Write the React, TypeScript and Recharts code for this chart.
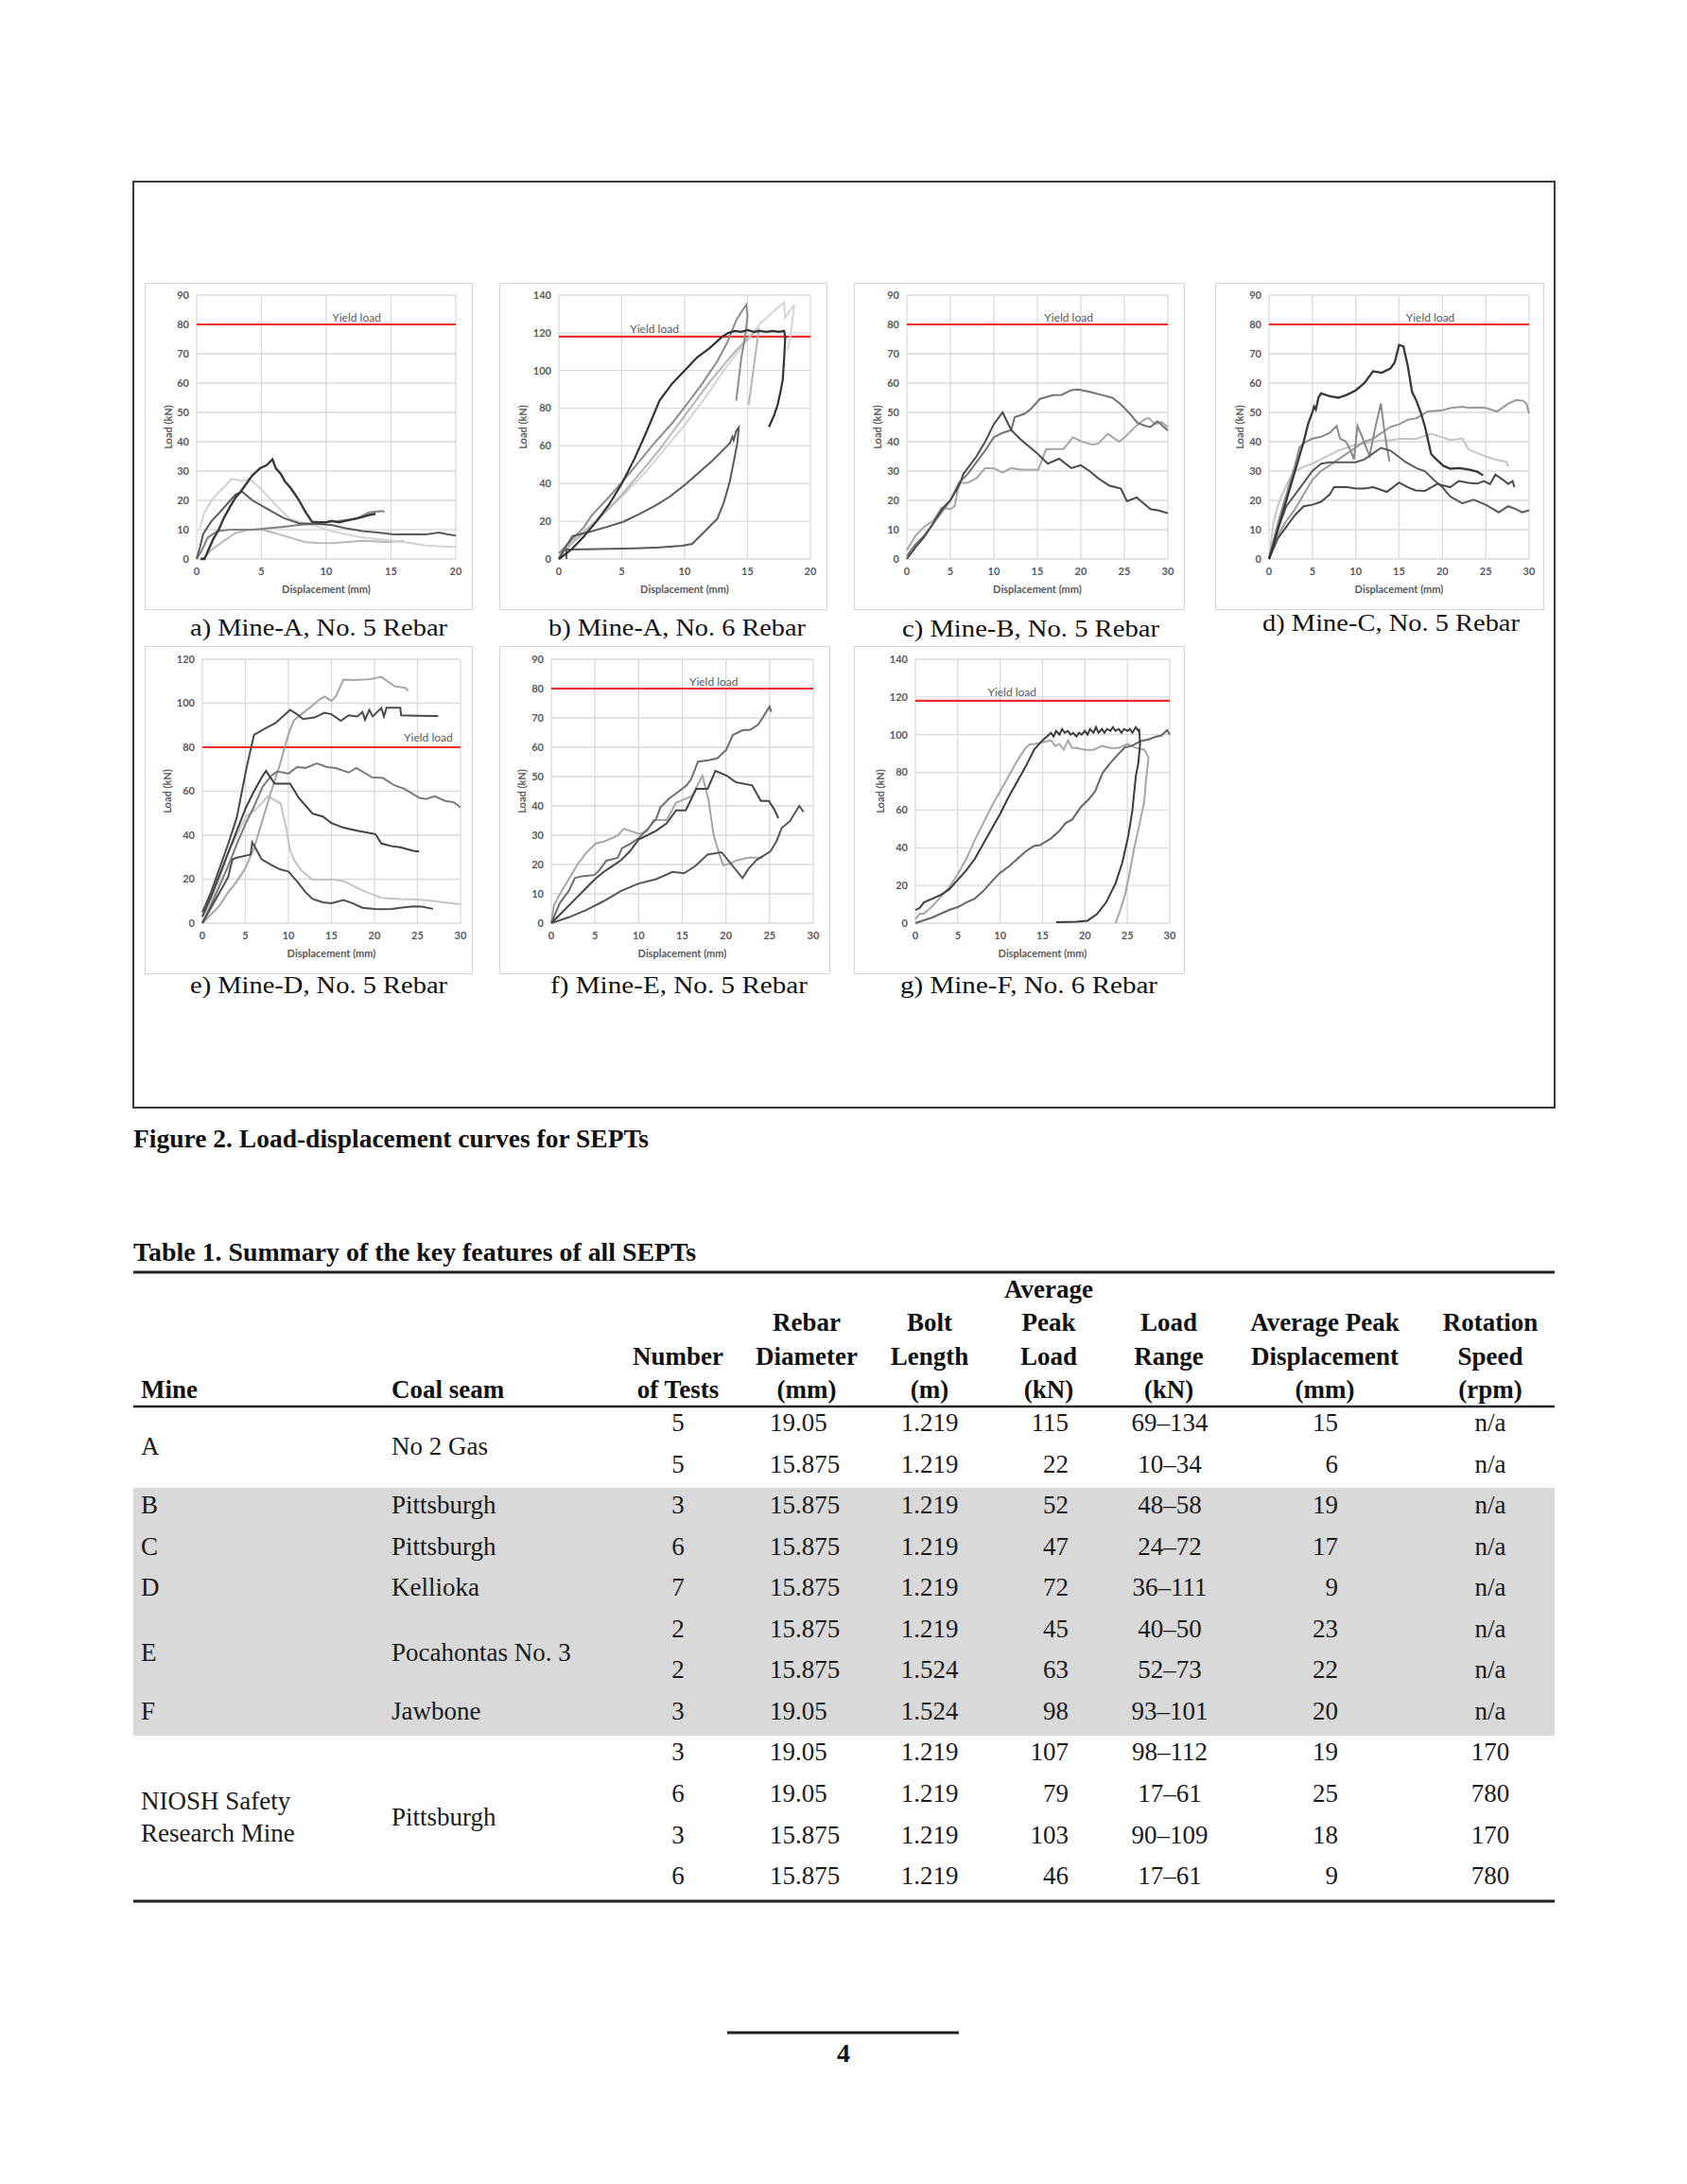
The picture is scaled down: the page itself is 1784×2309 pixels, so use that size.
import React from 'react';
import { LineChart, Line, XAxis, YAxis, CartesianGrid, ReferenceLine } from 'recharts';

type Pt = [number, number];

// ---------- a) Mine-A, No. 5 Rebar ----------
const mineA5_1: Pt[] = [[0.3, 0], [0.6, 0], [1, 4], [1.3, 7], [1.7, 10], [2.1, 14], [2.6, 18], [3, 21], [3.4, 23], [3.8, 25.5], [4.3, 28.5], [4.9, 31], [5.4, 32], [5.85, 34], [6.1, 31], [6.5, 29], [6.8, 26.5], [7.2, 24.5], [7.6, 22], [7.9, 20], [8.4, 16], [8.9, 12.7], [9.5, 12.5], [10, 12.5], [10.4, 13], [11, 12.5], [11.5, 13], [12, 13.5], [12.8, 14.3], [13.3, 15], [13.8, 15.4]];
const mineA5_2: Pt[] = [[0, 0], [0.25, 4], [0.5, 8.5], [1.1, 12.7], [1.8, 16], [2.6, 20], [3, 22], [3.5, 23], [4.3, 20], [5.5, 17], [6.7, 14], [7.9, 12.2], [9, 12], [10.4, 11.6], [11.5, 10.5], [12.8, 9.5], [14, 9], [15.2, 8.4], [16.5, 8.5], [17.7, 8.4], [18.7, 9], [19.3, 8.5], [20, 8]];
const mineA5_3: Pt[] = [[0.25, 10.5], [0.6, 16], [1.3, 21], [2.1, 24.5], [2.7, 27.3], [3.1, 27], [3.5, 26.6], [4.1, 27.2], [4.8, 24.5], [5.5, 21.3], [6.2, 18], [7.2, 13.7], [8.4, 12.1], [9.4, 11], [10.4, 9.5], [11.5, 8.5], [12.8, 7.3], [14, 6.8], [15.2, 6.2], [16.5, 5.5], [17.7, 4.6], [19, 4.3], [20, 4.1]];
const mineA5_4: Pt[] = [[0, 0], [0.4, 3], [0.85, 7.3], [1.6, 9.5], [2.6, 10], [4.3, 10], [5.5, 10.5], [6.7, 11], [7.9, 11.6], [9, 12], [10.4, 12.7], [11.4, 13.2], [12.3, 13.7], [13.3, 15.9], [14.3, 16.4], [14.5, 16]];
const mineA5_5: Pt[] = [[0.25, 0], [0.6, 0.5], [1.1, 3], [2.1, 6.2], [3, 8.9], [4, 10], [5, 10], [6, 8.9], [7.2, 7.3], [8.4, 5.7], [9.4, 5.5], [10.4, 5.4], [11.6, 5.8], [12.8, 6.2], [14, 6], [14.8, 5.7], [16, 6.2]];

// ---------- b) Mine-A, No. 6 Rebar ----------
const mineA6_1: Pt[] = [[0, 0], [1, 5], [2, 12], [3, 20], [4, 29], [5, 40], [6, 53], [7, 68], [8, 84], [9, 93], [10, 100], [11, 107], [12, 112], [12.5, 115], [13, 118], [13.5, 120], [14, 121], [14.5, 120.5], [15, 121.5], [15.5, 120.5], [16, 121], [16.5, 120.5], [17, 121], [17.5, 120.5], [17.9, 121], [18, 118], [17.9, 105], [17.8, 95], [17.6, 88], [17.4, 82], [17.1, 76], [16.7, 70]];
const mineA6_2: Pt[] = [[0, 3], [1, 10], [2, 17], [2.6, 23], [4, 33], [5.1, 41.4], [6.3, 51], [7.6, 61.5], [9, 72], [10.1, 81.5], [11.4, 93], [12.6, 105], [13.4, 115], [14.1, 126.6], [14.6, 132], [14.9, 135], [15, 129], [14.9, 123], [14.7, 114], [14.5, 106.6], [14.3, 95], [14.1, 84]];
const mineA6_3: Pt[] = [[0, 2], [1, 9], [2, 15], [3, 21], [4, 27], [5, 33], [6, 40], [7, 47], [8, 55], [9, 63], [10, 71], [11, 80], [12, 89], [13, 99], [14, 108], [15, 116], [16, 125], [17, 131], [17.9, 136], [18, 128], [18.3, 131], [18.7, 135], [18.6, 128], [18.4, 118], [18.2, 111]];
const mineA6_4: Pt[] = [[0, 1], [1, 8], [2, 14], [3, 20], [4, 27], [5, 34], [6, 42], [7, 50], [8, 58], [9, 67], [10, 76], [11, 85], [12, 94], [13, 102], [14, 110], [15, 117], [15.5, 120], [15.9, 122], [15.7, 112], [15.5, 102], [15.3, 92], [15.1, 82]];
const mineA6_5: Pt[] = [[0.6, 0], [0.6, 5], [2, 5.2], [4, 5.4], [6, 5.7], [8, 6.2], [9.8, 7], [10.6, 8], [11.6, 14.7], [12.6, 21.4], [13.1, 29.7], [13.6, 41.4], [14, 54.8], [14.2, 62], [14.3, 69.8], [14.1, 68], [13.9, 63], [13.8, 64.8], [13.6, 61.5], [12.1, 51.5], [10.1, 39.8], [8.8, 33], [7.6, 28], [6.3, 23.5], [5.1, 19.7], [3.8, 17], [2.6, 14.7], [1.1, 12.2], [0.5, 6], [0, 0]];

// ---------- c) Mine-B, No. 5 Rebar ----------
const mineB5_1: Pt[] = [[0, 0], [1, 4], [2, 7.5], [3, 12], [4, 17], [5, 20], [6, 25], [6.5, 29], [7, 31], [8, 35], [9, 40], [10, 46], [11, 50], [11.5, 47], [12, 44], [13, 41], [14, 38.5], [15, 36], [16.2, 32.5], [17.5, 34.2], [18.9, 31], [20, 32], [21, 30], [22, 27.5], [23.3, 25], [24.6, 24], [25.3, 19.7], [26.4, 21], [27, 19.5], [28, 17], [29, 16.5], [30, 15.6]];
const mineB5_2: Pt[] = [[0, 1], [1, 5], [2, 8], [3, 12], [4, 16], [5, 20], [6, 26], [7, 29], [8, 33], [9, 37], [10, 41.5], [11, 43], [12, 44], [12.4, 48.4], [13.5, 49.5], [14.2, 51], [15.3, 54.6], [16.8, 55.9], [17.8, 56], [18.9, 57.6], [19.7, 57.8], [21, 57], [22.3, 56], [23.6, 55], [24.5, 53], [25.5, 50], [26.5, 46.5], [27.3, 45.5], [28, 45], [28.8, 47], [30, 43.8]];
const mineB5_3: Pt[] = [[0, 3], [1, 8], [2, 11], [3, 13], [4, 17.5], [5, 17], [5.5, 18], [6, 26], [7, 26], [8, 27.5], [9, 31], [10, 31], [11, 29.5], [12, 31], [13, 30.5], [14, 30.5], [15.1, 30.4], [16, 37.4], [17, 37.5], [18, 37.5], [19.1, 41.5], [20, 40.2], [21.3, 39], [22, 39.3], [23.1, 42.7], [24.4, 40], [25.1, 41.7], [26.2, 44.9], [27.3, 47.6], [27.8, 48.1], [28.5, 46], [29.3, 46.7], [30, 44.9]];

// ---------- d) Mine-C, No. 5 Rebar ----------
const mineC5_1: Pt[] = [[0, 0], [1, 10], [2, 20], [3, 30], [4, 40], [4.5, 46], [5, 50], [5.2, 52], [5.4, 51], [5.7, 55], [6, 56.5], [7, 55.5], [8, 55], [9, 56], [10, 57.5], [11, 60], [12, 64], [13, 63.5], [14, 65], [14.5, 67], [15, 73], [15.5, 72.5], [16, 66], [16.5, 57], [17, 54], [17.5, 50], [18, 45], [18.7, 35.8], [19.3, 34], [20.1, 31.8], [20.9, 30.8], [22, 31], [23, 30.5], [24, 29.8], [24.7, 28.5]];
const mineC5_2: Pt[] = [[0, 0], [1, 12], [2, 22], [3, 32], [3.5, 38], [4, 39.5], [4.9, 41], [6, 41.7], [7, 43], [7.8, 45.4], [8.2, 41], [8.9, 40], [9.4, 37], [9.8, 34], [10.2, 45.4], [10.7, 42], [11.2, 38], [11.6, 35.2], [12.2, 44], [12.9, 53], [13.3, 44], [13.6, 38], [13.9, 33.3]];
const mineC5_3: Pt[] = [[0, 0], [1, 8], [2, 13], [3, 17], [4, 22], [5, 27], [6, 30], [7, 32], [8, 34], [9, 36], [10, 38], [11, 40], [12, 41], [13, 43], [14, 45], [15.05, 46], [16, 47.5], [17, 48], [18.3, 50.3], [19, 50.5], [20, 50.7], [21, 51.5], [22.3, 51.9], [23, 51.5], [24, 51.7], [25, 51.5], [26.3, 50.3], [27.6, 53], [28.5, 54.2], [29.3, 54], [29.7, 53], [30, 49.7]];
const mineC5_4: Pt[] = [[0, 0], [0.5, 12], [1, 18], [1.5, 22], [2, 25], [2.5, 28], [3, 30], [4, 31.5], [5, 32.5], [6, 34], [7, 35.5], [8, 37], [9, 38], [10, 39], [11, 39.5], [12, 40], [13, 40.5], [14, 40.5], [15, 41], [16, 41], [17, 41], [18.7, 42.7], [20, 41.5], [20.9, 40.6], [22.3, 41.1], [23, 37.4], [24.8, 35.2], [26, 34], [27.4, 33.1], [27.6, 31.5]];
const mineC5_5: Pt[] = [[0, 0], [1, 10], [2, 18], [3, 22], [4, 26], [5, 30], [6, 32.5], [7, 33], [8, 33], [9, 33], [10, 33], [11, 34], [12, 36], [12.9, 37.9], [14, 37], [15.8, 33], [17, 31], [18, 29.9], [19, 27], [20, 24.5], [20.9, 21.3], [22.3, 19], [23.6, 20.2], [25, 18.5], [26.5, 15.9], [27.6, 18], [28.5, 17], [29.2, 15.9], [30, 16.6]];
const mineC5_6: Pt[] = [[0, 0], [1, 7], [2, 11], [3, 15], [4, 18], [5, 18.5], [6, 19.5], [7, 22], [7.5, 24.5], [8.3, 24.5], [9, 24.5], [10, 24], [11, 24], [12, 24.5], [13.6, 22.9], [15, 26.1], [16, 24.5], [16.9, 23.4], [18, 23.2], [19.4, 25.6], [20.9, 24.5], [21.9, 26.6], [23, 26], [24, 25.7], [24.8, 26.6], [25.5, 25.5], [26.1, 28.8], [27, 27], [27.6, 25.6], [28.1, 26.6], [28.3, 24.5]];

// ---------- e) Mine-D, No. 5 Rebar ----------
const mineD5_1: Pt[] = [[0, 5], [1, 14], [2, 25], [3, 36], [4, 48], [5.1, 70], [6, 85.6], [7.3, 88.5], [8.5, 91], [10.2, 97], [11, 95], [11.7, 92.8], [13, 93.5], [14.2, 95.7], [15, 95], [16.1, 92], [17, 94.5], [18, 94], [18.6, 96], [18.9, 92.5], [19.4, 97], [19.8, 94], [20.8, 97.8], [21.1, 94], [21.4, 98], [21.9, 98], [23, 98], [23.1, 94.5], [25, 94.3], [27.4, 94.2]];
const mineD5_2: Pt[] = [[0, 0], [1, 4], [2, 8], [3, 14], [4, 19], [5, 25], [6, 34], [7, 47], [8, 60], [9, 72], [10, 86], [10.6, 92], [11.5, 95], [12.5, 98], [13.5, 101.4], [14.2, 103], [15, 101], [15.5, 103], [16.4, 110.7], [17.5, 110.5], [18.6, 110.7], [19.5, 111], [20.8, 112], [21.5, 110], [22.3, 107.8], [23.6, 107], [23.9, 105.7]];
const mineD5_3: Pt[] = [[0, 0], [1, 8], [2, 17], [3, 26], [4, 36], [5, 45], [6, 53], [7, 62], [8, 67], [8.7, 69], [10, 68], [11, 71], [12, 70.6], [13.3, 72.7], [14.5, 71], [15.5, 70.5], [17, 68.5], [17.9, 70.6], [19.7, 66.3], [21, 66], [22.3, 62.7], [23.5, 61], [25.2, 57], [26, 56.5], [27, 57.7], [28.2, 55.6], [29.2, 55], [30, 52.7]];
const mineD5_4: Pt[] = [[0, 3], [1, 12], [2, 22], [3, 32], [4, 42], [5, 52], [6, 60], [7, 67], [7.4, 69.2], [8.4, 63.4], [10.2, 63.4], [11.2, 57], [12.8, 49.8], [14, 48.5], [15, 45.5], [16.4, 43.4], [18, 42], [20.1, 40.5], [20.8, 36.2], [22, 35], [23, 34.5], [24.5, 32.9], [25.2, 32.6]];
const mineD5_5: Pt[] = [[0, 0], [1, 10], [2, 20], [3, 32], [4, 40], [5.1, 48.7], [6, 51], [7, 55], [7.6, 57.7], [9.1, 54.4], [9.7, 44], [10.2, 33], [10.7, 28.4], [11.5, 24], [12.8, 19.8], [15.3, 19.8], [16.5, 19], [18, 16], [19.5, 13.5], [20.8, 11.5], [23, 11], [25, 10.8], [27, 10], [28.5, 9.2], [30, 8.6]];
const mineD5_6: Pt[] = [[0, 0], [1, 7], [2, 14], [3, 21], [3.5, 29], [4, 29.8], [5.6, 31.2], [5.8, 36.7], [6.9, 29], [8, 26.5], [9, 24.5], [10, 23.5], [11, 19], [12, 14], [12.8, 11], [14, 9.5], [15, 9], [16.4, 10.5], [17.5, 9], [18.6, 7], [20, 6.5], [21, 6.3], [22, 6.5], [23, 7], [24.5, 7.6], [25.5, 7.5], [26.8, 6.5]];

// ---------- f) Mine-E, No. 5 Rebar ----------
const mineE5_1: Pt[] = [[0, 0], [1, 7], [2, 11], [2.7, 15.4], [3.5, 16], [4.9, 16.4], [5.5, 18], [6.3, 21.3], [7.6, 22.3], [8.1, 25.6], [9, 27], [10, 29], [11, 32], [12, 35.5], [12.5, 39.5], [13.5, 42.5], [14.6, 44.9], [15.5, 47], [16, 49], [16.8, 55.1], [18, 55.6], [19, 56.2], [20, 59], [20.8, 64.2], [21.9, 65.8], [22.8, 66], [23.7, 67.7], [24.4, 71], [25, 73.9], [25.2, 72]];
const mineE5_2: Pt[] = [[0, 0], [0.3, 6], [1, 10], [2, 15], [3, 20], [4, 24], [5.1, 27.2], [6, 27.8], [7.6, 29.9], [8.3, 32.2], [9, 31.5], [10.1, 30.4], [11, 31.5], [11.7, 35.2], [13.2, 35.2], [14.3, 41.1], [15, 42], [16.1, 43.3], [17.3, 50.3], [18, 42], [18.6, 29.9], [19.2, 24], [19.7, 19.7], [20.5, 20.3], [21.1, 21.3], [22.6, 22.3], [24.2, 22.3]];
const mineE5_3: Pt[] = [[0, 0], [1, 3], [2, 6], [3, 9], [4, 12], [5, 15], [6, 17.5], [7, 19.5], [8, 21.5], [9, 24.5], [10, 28.5], [11, 30], [12, 31.5], [13.2, 34], [14.3, 38.5], [15.4, 38.5], [16.6, 45.8], [17.9, 45.8], [18.8, 51.9], [20.1, 50.3], [21.1, 48.1], [23, 47], [24, 41.7], [24.9, 41.7], [25.5, 39], [26, 35.8]];
const mineE5_4: Pt[] = [[0, 0], [2, 2], [4, 4.5], [6, 7.5], [8, 11], [10, 13.5], [12, 15], [13.9, 17.5], [15.2, 17], [16.5, 19.5], [17.9, 23.4], [19.5, 24.2], [20.5, 20.5], [21.9, 15.4], [22.6, 18.6], [23.5, 21.5], [25.1, 24.5], [25.8, 28], [26.4, 32.5], [27.3, 34.7], [28.4, 40], [28.9, 37.9]];

// ---------- g) Mine-F, No. 6 Rebar ----------
const mineF6_1: Pt[] = [[0, 7], [0.5, 8], [1, 11], [2, 13], [3, 15], [4, 18], [5, 23], [6, 28], [7, 34], [8, 42], [9, 50], [10, 58], [11, 67], [12, 75], [13, 83], [14, 92], [15, 97], [15.5, 99], [16, 101], [16.3, 99], [16.6, 102], [17, 100], [17.3, 103], [17.6, 101], [18, 102], [18.3, 100], [18.6, 101], [19, 99], [19.3, 101], [19.6, 100], [20, 102], [20.3, 100], [20.6, 103], [21, 101], [21.3, 104], [21.6, 101], [22, 103], [22.3, 101], [22.6, 103], [23, 102], [23.3, 104], [23.6, 102], [24, 103], [24.3, 101], [24.6, 103], [25, 102], [25.3, 103], [25.6, 101], [26, 104], [26.3, 102], [26.4, 103], [26.5, 95], [26.3, 85], [26, 78], [25.6, 60], [25.1, 46], [24.4, 32], [23.6, 21], [22.5, 11], [21.4, 4.7], [20.3, 1.3], [19, 0.8], [16.6, 0.5]];
const mineF6_2: Pt[] = [[0, 2], [0.5, 5], [1, 5], [2, 9], [3, 14], [4, 19], [5, 26], [6, 34], [7, 44], [8, 53], [9, 62], [10, 70], [11, 78], [12, 86], [13, 93], [13.5, 95], [14, 95], [15, 96], [16, 97], [16.5, 94], [17, 95], [17.5, 92], [18, 97], [18.5, 93], [19, 93], [20, 92], [21, 92], [22, 94], [23, 93], [24, 93], [25, 95], [26, 93], [27, 92], [27.5, 88], [27.2, 76], [27, 64.8], [26.4, 52], [25.8, 39.8], [25.2, 25], [24.7, 14.7], [24.1, 6], [23.6, 0]];
const mineF6_3: Pt[] = [[0, 0], [1, 1.5], [2, 3], [3, 5], [4, 7], [5, 8.5], [6, 11], [7, 13], [8, 17], [9, 22], [9.9, 26.4], [11, 30], [12, 34], [13, 38], [14, 41], [14.7, 41.4], [16, 45], [17, 49], [17.7, 53], [18.5, 55], [19.5, 61.5], [20.5, 66], [21.2, 70], [22.1, 79.9], [23, 85], [24, 90], [24.7, 93.2], [25.5, 94], [26.6, 96.6], [27.5, 97.5], [28.4, 99], [29, 99.5], [29.7, 102.4], [30, 100]];

// ---------- axis ticks ----------
const ticks0to20 = [0, 5, 10, 15, 20];
const ticks0to30 = [0, 5, 10, 15, 20, 25, 30];
const ticks0to90 = [0, 10, 20, 30, 40, 50, 60, 70, 80, 90];
const ticks0to120 = [0, 20, 40, 60, 80, 100, 120];
const ticks0to140 = [0, 20, 40, 60, 80, 100, 120, 140];

// ---------- table 1 ----------
const tableHeaders: string[][] = [
  ['Mine'],
  ['Coal seam'],
  ['Number', 'of Tests'],
  ['Rebar', 'Diameter', '(mm)'],
  ['Bolt', 'Length', '(m)'],
  ['Average', 'Peak', 'Load', '(kN)'],
  ['Load', 'Range', '(kN)'],
  ['Average Peak', 'Displacement', '(mm)'],
  ['Rotation', 'Speed', '(rpm)'],
];
const numberOfTests = ['5', '5', '3', '6', '7', '2', '2', '3', '3', '6', '3', '6'];
const rebarDiameter = ['19.05', '15.875', '15.875', '15.875', '15.875', '15.875', '15.875', '19.05', '19.05', '19.05', '15.875', '15.875'];
const boltLength = ['1.219', '1.219', '1.219', '1.219', '1.219', '1.219', '1.524', '1.524', '1.219', '1.219', '1.219', '1.219'];
const avgPeakLoad = ['115', '22', '52', '47', '72', '45', '63', '98', '107', '79', '103', '46'];
const loadRange = ['69–134', '10–34', '48–58', '24–72', '36–111', '40–50', '52–73', '93–101', '98–112', '17–61', '90–109', '17–61'];
const avgPeakDisplacement = ['15', '6', '19', '17', '9', '23', '22', '20', '19', '25', '18', '9'];
const rotationSpeed = ['n/a', 'n/a', 'n/a', 'n/a', 'n/a', 'n/a', 'n/a', 'n/a', '170', '780', '170', '780'];
const mineGroups = [
  { mine: ['A'], seam: ['No 2 Gas'], first: 0, last: 1 },
  { mine: ['B'], seam: ['Pittsburgh'], first: 2, last: 2 },
  { mine: ['C'], seam: ['Pittsburgh'], first: 3, last: 3 },
  { mine: ['D'], seam: ['Kellioka'], first: 4, last: 4 },
  { mine: ['E'], seam: ['Pocahontas No. 3'], first: 5, last: 6 },
  { mine: ['F'], seam: ['Jawbone'], first: 7, last: 7 },
  { mine: ['NIOSH Safety', 'Research Mine'], seam: ['Pittsburgh'], first: 8, last: 11 },
];

interface Trace { name: string; points: Pt[]; color: string; width: number }
interface PanelSpec {
  box: [number, number, number, number];
  plot: [number, number, number, number];
  xTicks: number[];
  yTicks: number[];
  yieldLoad: number;
  yieldAt: number;
  yieldLift: number;
  yTitleX: number;
  traces: Trace[];
  caption: string;
  captionX: number;
  captionY: number;
}

const panels: PanelSpec[] = [
  {
    box: [153, 299, 500, 645], plot: [208, 312, 482, 591], xTicks: ticks0to20, yTicks: ticks0to90,
    yieldLoad: 80, yieldAt: 0.617, yieldLift: 3, yTitleX: 25,
    traces: [
      { name: 'A5-5', points: mineA5_5, color: '#b8b8b8', width: 2 },
      { name: 'A5-3', points: mineA5_3, color: '#d2d2d2', width: 2 },
      { name: 'A5-4', points: mineA5_4, color: '#808080', width: 2 },
      { name: 'A5-2', points: mineA5_2, color: '#5a5a5a', width: 2 },
      { name: 'A5-1', points: mineA5_1, color: '#383838', width: 2.4 },
    ],
    caption: 'a) Mine-A, No. 5 Rebar', captionX: 337, captionY: 672,
  },
  {
    box: [528, 299, 875, 645], plot: [591, 312, 857, 591], xTicks: ticks0to20, yTicks: ticks0to140,
    yieldLoad: 118, yieldAt: 0.38, yieldLift: 4, yTitleX: 25,
    traces: [
      { name: 'A6-3', points: mineA6_3, color: '#d4d4d4', width: 2 },
      { name: 'A6-4', points: mineA6_4, color: '#b5b5b5', width: 2 },
      { name: 'A6-2', points: mineA6_2, color: '#8c8c8c', width: 2 },
      { name: 'A6-5', points: mineA6_5, color: '#5a5a5a', width: 2 },
      { name: 'A6-1', points: mineA6_1, color: '#333333', width: 2.2 },
    ],
    caption: 'b) Mine-A, No. 6 Rebar', captionX: 716, captionY: 672,
  },
  {
    box: [903, 299, 1253, 645], plot: [959, 312, 1235, 591], xTicks: ticks0to30, yTicks: ticks0to90,
    yieldLoad: 80, yieldAt: 0.62, yieldLift: 3, yTitleX: 25,
    traces: [
      { name: 'B5-3', points: mineB5_3, color: '#a6a6a6', width: 2 },
      { name: 'B5-2', points: mineB5_2, color: '#737373', width: 2 },
      { name: 'B5-1', points: mineB5_1, color: '#4a4a4a', width: 2 },
    ],
    caption: 'c) Mine-B, No. 5 Rebar', captionX: 1090, captionY: 673,
  },
  {
    box: [1285, 299, 1633, 645], plot: [1342, 312, 1617, 591], xTicks: ticks0to30, yTicks: ticks0to90,
    yieldLoad: 80, yieldAt: 0.62, yieldLift: 3, yTitleX: 26,
    traces: [
      { name: 'C5-4', points: mineC5_4, color: '#c4c4c4', width: 2 },
      { name: 'C5-3', points: mineC5_3, color: '#999999', width: 2 },
      { name: 'C5-2', points: mineC5_2, color: '#8a8a8a', width: 2 },
      { name: 'C5-5', points: mineC5_5, color: '#5a5a5a', width: 2 },
      { name: 'C5-6', points: mineC5_6, color: '#4a4a4a', width: 2 },
      { name: 'C5-1', points: mineC5_1, color: '#383838', width: 2.3 },
    ],
    caption: 'd) Mine-C, No. 5 Rebar', captionX: 1471, captionY: 667,
  },
  {
    box: [153, 683, 500, 1030], plot: [214, 697, 487, 976], xTicks: ticks0to30, yTicks: ticks0to120,
    yieldLoad: 80, yieldAt: 0.875, yieldLift: 6, yTitleX: 24,
    traces: [
      { name: 'D5-5', points: mineD5_5, color: '#c4c4c4', width: 2 },
      { name: 'D5-2', points: mineD5_2, color: '#a6a6a6', width: 2 },
      { name: 'D5-3', points: mineD5_3, color: '#7a7a7a', width: 2 },
      { name: 'D5-6', points: mineD5_6, color: '#4d4d4d', width: 2 },
      { name: 'D5-4', points: mineD5_4, color: '#404040', width: 2 },
      { name: 'D5-1', points: mineD5_1, color: '#4a4a4a', width: 2 },
    ],
    caption: 'e) Mine-D, No. 5 Rebar', captionX: 337, captionY: 1050,
  },
  {
    box: [528, 683, 878, 1030], plot: [583, 697, 860, 976], xTicks: ticks0to30, yTicks: ticks0to90,
    yieldLoad: 80, yieldAt: 0.62, yieldLift: 3, yTitleX: 24,
    traces: [
      { name: 'E5-2', points: mineE5_2, color: '#a6a6a6', width: 2 },
      { name: 'E5-1', points: mineE5_1, color: '#6e6e6e', width: 2 },
      { name: 'E5-4', points: mineE5_4, color: '#555555', width: 2 },
      { name: 'E5-3', points: mineE5_3, color: '#454545', width: 2 },
    ],
    caption: 'f) Mine-E, No. 5 Rebar', captionX: 718, captionY: 1050,
  },
  {
    box: [903, 683, 1253, 1030], plot: [968, 697, 1237, 976], xTicks: ticks0to30, yTicks: ticks0to140,
    yieldLoad: 118, yieldAt: 0.38, yieldLift: 5, yTitleX: 28,
    traces: [
      { name: 'F6-2', points: mineF6_2, color: '#a6a6a6', width: 2 },
      { name: 'F6-3', points: mineF6_3, color: '#666666', width: 2 },
      { name: 'F6-1', points: mineF6_1, color: '#3c3c3c', width: 2 },
    ],
    caption: 'g) Mine-F, No. 6 Rebar', captionX: 1088, captionY: 1050,
  },
];

const chartFont = 'Lato, "Open Sans", sans-serif';
const serif = '"Liberation Serif", "Times New Roman", serif';
const axisGray = '#595959';

function SeptPanel({ spec }: { spec: PanelSpec }) {
  const [bl, bt, br, bb] = spec.box;
  const [pl, pt, pr, pb] = spec.plot;
  const w = br - bl;
  const h = bb - bt;
  const xAxisH = 42;
  const xMax = spec.xTicks[spec.xTicks.length - 1];
  const yMax = spec.yTicks[spec.yTicks.length - 1];
  const tick = { fontSize: 11, fill: axisGray, fontWeight: 700, fontFamily: chartFont };

  const xTitle = (p: any) => {
    const vb = p.viewBox || { x: 0, y: 0, width: 0 };
    return (
      <text x={vb.x + vb.width / 2} y={vb.y + 36} textAnchor="middle" fontSize={11} fontWeight={700} fill={axisGray} fontFamily={chartFont}>
        Displacement (mm)
      </text>
    );
  };
  const yTitle = (p: any) => {
    const vb = p.viewBox || { x: 0, y: 0, height: 0 };
    const cx = spec.yTitleX;
    const cy = vb.y + vb.height / 2;
    return (
      <text x={cx} y={cy} dy={4} transform={`rotate(-90 ${cx} ${cy})`} textAnchor="middle" fontSize={11} fontWeight={700} fill={axisGray} fontFamily={chartFont}>
        Load (kN)
      </text>
    );
  };
  const yieldText = (p: any) => {
    const vb = p.viewBox || { x: 0, y: 0, width: 0 };
    return (
      <text x={vb.x + vb.width * spec.yieldAt} y={vb.y - spec.yieldLift} textAnchor="middle" fontSize={12} fill={axisGray} fontFamily={chartFont}>
        Yield load
      </text>
    );
  };

  return (
    <div style={{ position: 'absolute', left: bl, top: bt, width: w, height: h, background: '#fff', boxShadow: 'inset 0 0 0 1px #d4d4d4' }}>
      <LineChart width={w} height={h} margin={{ top: pt - bt, right: br - pr, bottom: bb - pb - xAxisH, left: 0 }}>
        <CartesianGrid stroke="#dadada" strokeWidth={1.3} />
        <XAxis
          type="number"
          dataKey="x"
          domain={[0, xMax]}
          ticks={spec.xTicks}
          interval={0}
          height={xAxisH}
          axisLine={false}
          tickLine={false}
          tickSize={0}
          tickMargin={9}
          tick={tick}
          label={{ content: xTitle }}
        />
        <YAxis
          type="number"
          domain={[0, yMax]}
          ticks={spec.yTicks}
          interval={0}
          width={pl - bl}
          axisLine={false}
          tickLine={false}
          tickSize={0}
          tickMargin={8}
          tick={tick}
          label={{ content: yTitle }}
        />
        <ReferenceLine y={spec.yieldLoad} stroke="#ee2b2b" strokeWidth={2.2} label={{ content: yieldText }} />
        {spec.traces.map((t) => (
          <Line
            key={t.name}
            name={t.name}
            data={t.points.map(([x, y]) => ({ x, y }))}
            dataKey="y"
            type="linear"
            stroke={t.color}
            strokeWidth={t.width}
            dot={false}
            activeDot={false}
            isAnimationActive={false}
          />
        ))}
      </LineChart>
    </div>
  );
}

// table layout
const tableLeft = 141;
const tableRight = 1644;
const firstRowBase = 1513;
const rowPitch = 43.55;
const headerLastBase = 1478;
const headerPitch = 35.3;
const headerLayout = [
  { x: 149, anchor: 'start' },
  { x: 414, anchor: 'start' },
  { x: 717, anchor: 'middle' },
  { x: 853, anchor: 'middle' },
  { x: 983, anchor: 'middle' },
  { x: 1109, anchor: 'middle' },
  { x: 1236, anchor: 'middle' },
  { x: 1401, anchor: 'middle' },
  { x: 1576, anchor: 'middle' },
];
const valueColumns = [
  { values: numberOfTests, x: 717, anchor: 'middle' },
  { values: rebarDiameter, x: 814, anchor: 'start' },
  { values: boltLength, x: 983, anchor: 'middle' },
  { values: avgPeakLoad, x: 1130, anchor: 'end' },
  { values: loadRange, x: 1237, anchor: 'middle' },
  { values: avgPeakDisplacement, x: 1415, anchor: 'end' },
  { values: rotationSpeed, x: 1576, anchor: 'middle' },
];

function PageText() {
  const rowY = (i: number) => firstRowBase + i * rowPitch;
  return (
    <svg width={1784} height={2309} style={{ position: 'absolute', left: 0, top: 0 }}>
      <rect x={141} y={192} width={1503} height={979} fill="none" stroke="#3a3a3a" strokeWidth={2} />
      {panels.map((p) => (
        <text key={p.caption} x={p.captionX} y={p.captionY} textAnchor="middle" fontFamily={serif} fontSize={26} fill="#111" textLength={272} lengthAdjust="spacingAndGlyphs">
          {p.caption}
        </text>
      ))}
      <text x={141} y={1213} fontFamily={serif} fontSize={27} fontWeight={700} fill="#111" textLength={545} lengthAdjust="spacingAndGlyphs">
        Figure 2. Load-displacement curves for SEPTs
      </text>
      <text x={141} y={1333} fontFamily={serif} fontSize={27} fontWeight={700} fill="#111" textLength={595} lengthAdjust="spacingAndGlyphs">
        Table 1.  Summary of the key features of all SEPTs
      </text>
      <rect x={tableLeft} y={1573} width={tableRight - tableLeft} height={262} fill="#d9d9d9" />
      <line x1={tableLeft} x2={tableRight} y1={1345} y2={1345} stroke="#222" strokeWidth={3} />
      <line x1={tableLeft} x2={tableRight} y1={1487} y2={1487} stroke="#222" strokeWidth={2.5} />
      <line x1={tableLeft} x2={tableRight} y1={2010} y2={2010} stroke="#222" strokeWidth={3} />
      {tableHeaders.map((lines, c) =>
        lines.map((ln, k) => (
          <text
            key={`h${c}-${k}`}
            x={headerLayout[c].x}
            y={headerLastBase - (lines.length - 1 - k) * headerPitch}
            textAnchor={headerLayout[c].anchor as any}
            fontFamily={serif}
            fontSize={27}
            fontWeight={700}
            fill="#111"
          >
            {ln}
          </text>
        ))
      )}
      {mineGroups.map((g, gi) => {
        const mid = (rowY(g.first) + rowY(g.last)) / 2 + (g.last > g.first ? 3 : 0);
        return (
          <g key={`g${gi}`}>
            {g.mine.map((m, k) => (
              <text key={k} x={149} y={mid + (k - (g.mine.length - 1) / 2) * 34} fontFamily={serif} fontSize={27} fill="#1a1a1a">
                {m}
              </text>
            ))}
            {g.seam.map((s, k) => (
              <text key={`s${k}`} x={414} y={mid + (k - (g.seam.length - 1) / 2) * 34} fontFamily={serif} fontSize={27} fill="#1a1a1a">
                {s}
              </text>
            ))}
          </g>
        );
      })}
      {valueColumns.map((col, c) =>
        col.values.map((v, i) => (
          <text key={`v${c}-${i}`} x={col.x} y={rowY(i)} textAnchor={col.anchor as any} fontFamily={serif} fontSize={27} fill="#1a1a1a">
            {v}
          </text>
        ))
      )}
      <line x1={769} x2={1014} y1={2149} y2={2149} stroke="#222" strokeWidth={3} />
      <text x={892} y={2180} textAnchor="middle" fontFamily={serif} fontSize={28} fontWeight={700} fill="#111">
        4
      </text>
    </svg>
  );
}

export default function App() {
  return (
    <div style={{ position: 'absolute', left: 0, top: 0, width: 1784, height: 2309, background: '#fff', overflow: 'hidden' }}>
      <PageText />
      {panels.map((p) => (
        <SeptPanel key={p.caption} spec={p} />
      ))}
    </div>
  );
}
